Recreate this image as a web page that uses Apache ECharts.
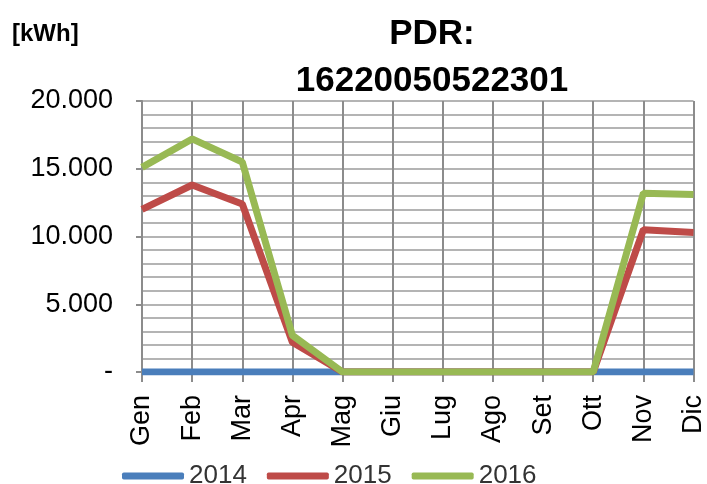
<!DOCTYPE html>
<html>
<head>
    <meta charset="UTF-8">
    <title>PDR</title>
    <script src="https://cdn.jsdelivr.net/npm/echarts@6/dist/echarts.min.js"></script>
</head>
<body style="margin:0">
    <div id="main" style="width: 707px;height:484px;"></div>
    <script type="text/javascript">
        // dati mensili (kWh)
        var mesi = ['Gen', 'Feb', 'Mar', 'Apr', 'Mag', 'Giu', 'Lug', 'Ago', 'Set', 'Ott', 'Nov', 'Dic'];
        var anni = ['2014', '2015', '2016'];
        var v2014 = [0, 0, 0, 0, 0, 0, 0, 0, 0, 0, 0, 0];
        var v2015 = [12000, 13800, 12400, 2200, 0, 0, 0, 0, 0, 0, 10500, 10300];
        var v2016 = [15100, 17200, 15500, 2700, 0, 0, 0, 0, 0, 0, 13200, 13100];
        var colori = ['#4a7ebb', '#be4b48', '#98b954'];

        var font = 'Liberation Sans';
        var myChart = echarts.init(document.getElementById('main'));

        function serie(nome, dati, i) {
            return {
                name: nome,
                type: 'line',
                data: dati,
                symbol: 'none',
                color: colori[i],
                lineStyle: { width: 7, color: colori[i] }
            };
        }

        myChart.setOption({
            animation: false,
            backgroundColor: '#fff',
            title: [{
                text: 'PDR:\n16220050522301',
                left: 427,
                textAlign: 'center',
                top: 6,
                textStyle: { fontFamily: font, fontSize: 35, fontWeight: 'bold', color: '#000', lineHeight: 47 }
            }, {
                text: '[kWh]',
                left: 7,
                top: 17,
                textStyle: { fontFamily: font, fontSize: 24, fontWeight: 'bold', color: '#000' }
            }],
            legend: {
                data: anni,
                top: 458,
                left: 117,
                icon: 'roundRect',
                itemWidth: 62,
                itemHeight: 7,
                itemGap: 20,
                textStyle: { fontFamily: font, fontSize: 26, color: '#333' }
            },
            grid: { left: 142, right: 13, top: 101, bottom: 112, containLabel: false },
            xAxis: {
                type: 'category',
                data: mesi,
                boundaryGap: false,
                axisLine: { show: true, lineStyle: { color: '#8c8c8c', width: 2 } },
                axisTick: { show: true, length: 10, alignWithLabel: true, lineStyle: { color: '#8c8c8c', width: 2 } },
                axisLabel: { rotate: 90, margin: 23, fontFamily: font, fontSize: 27, color: '#000' },
                splitLine: { show: true, lineStyle: { color: '#8c8c8c', width: 2 } }
            },
            yAxis: {
                type: 'value',
                min: 0,
                max: 20000,
                interval: 5000,
                axisLine: { show: true, lineStyle: { color: '#8c8c8c', width: 2 } },
                axisTick: { show: true, length: 6, lineStyle: { color: '#8c8c8c', width: 2 } },
                axisLabel: {
                    margin: 29,
                    fontFamily: font,
                    fontSize: 27,
                    color: '#000',
                    formatter: function (v) {
                        if (v === 0) return '-';
                        return (v / 1000).toFixed(0) + '.000';
                    }
                },
                splitLine: { show: true, lineStyle: { color: '#b4b4b4', width: 2 } },
                minorTick: { show: false, splitNumber: 5 },
                minorSplitLine: { show: true, lineStyle: { color: '#b4b4b4', width: 2 } }
            },
            series: [
                serie('2014', v2014, 0),
                serie('2015', v2015, 1),
                serie('2016', v2016, 2)
            ]
        });
    </script>
</body>
</html>
